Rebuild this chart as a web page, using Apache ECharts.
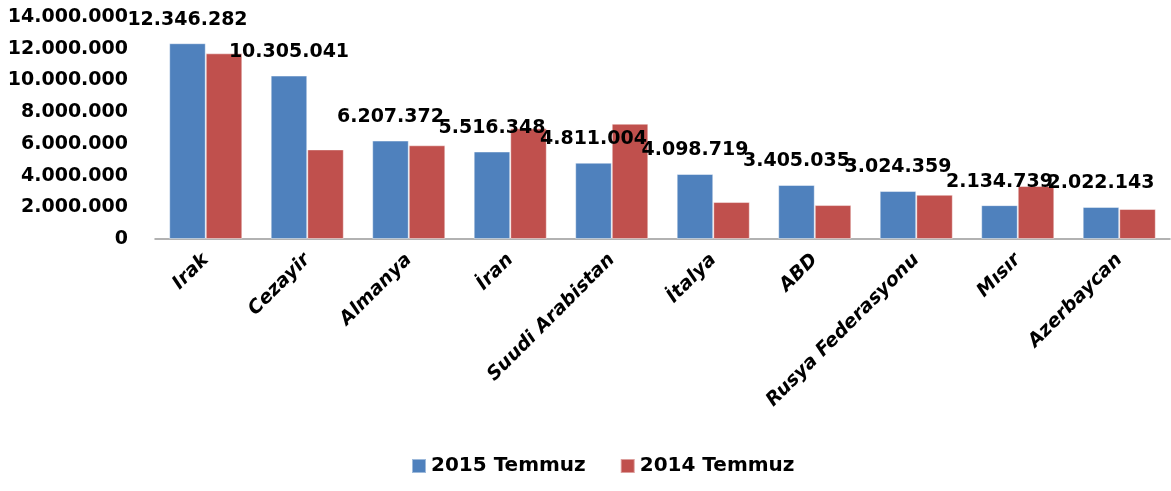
<!DOCTYPE html>
<html>
<head>
<meta charset="utf-8">
<script src="https://cdn.jsdelivr.net/npm/echarts@6/dist/echarts.min.js"></script>
<style>
  html, body { margin: 0; padding: 0; background: #fff; }
  #chart { width: 1171px; height: 491px; }
</style>
</head>
<body>
<div id="chart"></div>
<script>
// ülkeler ve değerler
const categories = ['Irak', 'Cezayir', 'Almanya', 'İran', 'Suudi Arabistan', 'İtalya', 'ABD', 'Rusya Federasyonu', 'Mısır', 'Azerbaycan'];
const seriesNames = ['2015 Temmuz', '2014 Temmuz'];
const values2015 = [12346282, 10305041, 6207372, 5516348, 4811004, 4098719, 3405035, 3024359, 2134739, 2022143];
const values2014 = [11710000, 5650000, 5910000, 6980000, 7270000, 2330000, 2140000, 2790000, 3340000, 1890000];

const fontFam = '"DejaVu Sans", sans-serif';

// 12346282 -> 12.346.282
function dotted(v) {
    return String(Math.round(v)).replace(/\B(?=(\d{3})+(?!\d))/g, '.');
}

const chart = echarts.init(document.getElementById('chart'));
chart.setOption({
    animation: false,
    color: ['#4F81BD', '#C0504D'],
    textStyle: { fontFamily: fontFam },
    grid: { left: 155, right: 1, top: 17, bottom: 252 },
    legend: {
        bottom: 10,
        left: 406,
        itemWidth: 14,
        itemHeight: 14,
        itemGap: 34,
        icon: 'rect',
        textStyle: { fontSize: 20, fontWeight: 'bold', color: '#000', fontFamily: fontFam },
        data: seriesNames
    },
    xAxis: {
        type: 'category',
        data: categories,
        axisLine: { lineStyle: { color: '#999', width: 1.5 } },
        axisTick: { show: false },
        axisLabel: {
            interval: 0,
            rotate: 45,
            margin: 18,
            fontSize: 19,
            fontWeight: 'bold',
            fontStyle: 'italic',
            color: '#000',
            fontFamily: fontFam
        }
    },
    yAxis: {
        type: 'value',
        min: 0,
        max: 14000000,
        interval: 2000000,
        splitLine: { show: false },
        axisLine: { show: false },
        axisTick: { show: false },
        axisLabel: {
            margin: 27,
            fontSize: 19,
            fontWeight: 'bold',
            color: '#000',
            fontFamily: fontFam,
            formatter: dotted
        }
    },
    series: [
        {
            name: seriesNames[0],
            type: 'bar',
            barGap: '0%',
            barCategoryGap: '28%',
            data: values2015,
            z: 3,
            itemStyle: { borderColor: 'rgba(255,255,255,0.45)', borderWidth: 1 },
            label: {
                show: true,
                position: 'top',
                distance: 14,
                fontSize: 19,
                fontWeight: 'bold',
                color: '#000',
                fontFamily: fontFam,
                formatter: p => dotted(p.value)
            }
        },
        {
            name: seriesNames[1],
            type: 'bar',
            barGap: '0%',
            barCategoryGap: '28%',
            data: values2014,
            z: 2,
            itemStyle: { borderColor: 'rgba(255,255,255,0.45)', borderWidth: 1 }
        }
    ]
});
</script>
</body>
</html>
